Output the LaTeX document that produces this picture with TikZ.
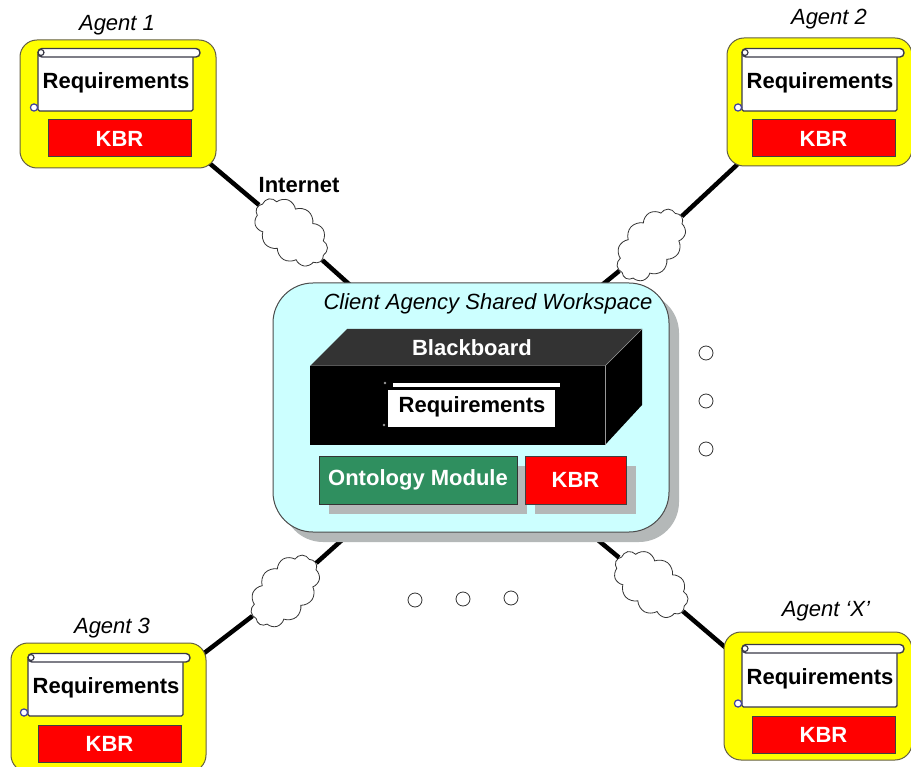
\documentclass[tikz,border=0pt]{standalone}
\usepackage{fontspec}
\setmainfont{Liberation Sans}
\usetikzlibrary{shapes.symbols}
\definecolor{agentyellow}{HTML}{FFFF00}
\definecolor{kbrred}{HTML}{FF0000}
\definecolor{wscyan}{HTML}{CCFFFF}
\definecolor{ontgreen}{HTML}{2F8F5F}
\definecolor{shadowgray}{HTML}{B4B8B8}
\definecolor{scrollline}{HTML}{3A3A48}
\definecolor{curlblue}{HTML}{4040A0}
\newcommand{\fsz}{\fontsize{22}{24}\selectfont}
\tikzset{
  agentbox/.style={draw=black!70!yellow,line width=1pt,fill=agentyellow,rounded corners=17pt,inner sep=0pt},
  kbrbox/.style={draw=black!75,line width=1pt,fill=kbrred,text=white,font=\fsz\bfseries,inner sep=0pt},
  reqtext/.style={font=\fsz\bfseries,text=black,inner sep=0pt},
  agentlabel/.style={font=\fsz\itshape,text=black,inner sep=0pt},
  link/.style={line width=4.5pt,black},
  netcloud/.style={cloud,cloud puffs=11,cloud puff arc=120,aspect=1.55,draw=black!80,line width=0.8pt,fill=white,inner sep=0pt,minimum width=84pt,minimum height=54pt},
  dotmark/.style={circle,draw=black!80,line width=0.8pt,fill=white,minimum size=14pt,inner sep=0pt},
  scrollpart/.style={draw=scrollline,line width=1.4pt,fill=white},
}
% scroll with its text and the red KBR box, drawn relative to Agent 1's position
\newcommand{\agentparts}[3]{%
  \begin{scope}[shift={(#2,#3)}]
    \draw[scrollpart,rounded corners=1.5pt] (38,53) -- (38,111) -- (193,111) -- (193,55) -- cycle;
    \draw[scrollpart,rounded corners=4pt] (38,48.5) -- (200,48.5) -- (200,57) -- (38,57) -- cycle;
    \draw[draw=scrollline,line width=1.2pt,fill=white] (41,52.5) circle (3pt);
    \draw[draw=curlblue,line width=1.2pt,fill=white] (34,107.5) circle (3.6pt);
    \node[reqtext] (#1req) at (116,83) {Requirements};
    \node[kbrbox,minimum width=143pt,minimum height=37pt] (#1kbr) at (119.5,138.5) {KBR};
  \end{scope}%
}
\begin{document}
\begin{tikzpicture}[x=1pt,y=-1pt]
\useasboundingbox (0,0) rectangle (911,767);
\clip (0,0) rectangle (911,767);
\fill[white] (0,0) rectangle (911,767);

% connector end points on the borders of the boxes
\coordinate (a1end) at (208,162);
\coordinate (a2end) at (740,162);
\coordinate (a3end) at (203,654);
\coordinate (a4end) at (726,648);
\coordinate (w1end) at (350,285);
\coordinate (w2end) at (602,285);
\coordinate (w3end) at (352,531);
\coordinate (w4end) at (587,531);

% clouds
\node[netcloud,rotate=-40] (cloud1) at (291,232) {};
\node[netcloud,rotate=48] (cloud2) at (651,245) {};
\node[netcloud,rotate=48] (cloud3) at (285,591) {};
\node[netcloud,rotate=-38] (cloud4) at (651,584) {};

% connectors
\draw[link] (a1end) -- (cloud1);
\draw[link] (cloud1) -- (w1end);
\draw[link] (a2end) -- (cloud2);
\draw[link] (cloud2) -- (w2end);
\draw[link] (a3end) -- (cloud3);
\draw[link] (cloud3) -- (w3end);
\draw[link] (a4end) -- (cloud4);
\draw[link] (cloud4) -- (w4end);

% workspace
\fill[shadowgray,rounded corners=40pt] (283,293) rectangle (679,542);
\node[draw=black!70,line width=1pt,fill=wscyan,rounded corners=40pt,inner sep=0pt,minimum width=396pt,minimum height=249pt] (workspace) at (471,407.5) {};
\node[agentlabel] (wslabel) at (488,304) {Client Agency Shared Workspace};

% blackboard
\fill[black!80] (310,366) -- (347,329) -- (642,329) -- (605,366) -- cycle;
\fill[black] (605,366) -- (642,329) -- (642,405) -- (605,445) -- cycle;
\draw[white!60!black,line width=0.7pt] (310,366) -- (605,366) -- (642,329);
\draw[white!60!black,line width=0.7pt] (605,366) -- (605,445);
\node[draw=none,fill=black,inner sep=0pt,minimum width=295pt,minimum height=79pt] (bbfront) at (457.5,405.5) {};
\node[font=\fsz\bfseries,text=white,inner sep=0pt] (bblabel) at (472,348) {Blackboard};
\fill[white] (393,383) rectangle (560,387);
\node[fill=white,inner sep=0pt,minimum width=167pt,minimum height=37pt] (bbscroll) at (471.5,408.5) {};
\node[reqtext] (bbreq) at (472,407) {Requirements};
\fill[white!60!black] (385,383) circle (1.3pt) (384,425) circle (1.3pt);

% modules
\fill[shadowgray] (329,466) rectangle (527,514);
\fill[shadowgray] (535,466) rectangle (636,514);
\node[draw=black!80,line width=1pt,fill=ontgreen,text=white,font=\fsz\bfseries,inner sep=0pt,minimum width=198pt,minimum height=48pt] (ontology) at (418,480) {Ontology Module};
\node[kbrbox,minimum width=101pt,minimum height=48pt] (wskbr) at (575.5,480) {KBR};

% agents
\node[agentbox,minimum width=196pt,minimum height=128pt] (agent1) at (118,104) {};
\agentparts{aone}{0}{0}
\node[agentlabel] (agent1label) at (117,25) {Agent 1};
\node[agentbox,minimum width=185pt,minimum height=128pt] (agent2) at (819.5,102) {};
\agentparts{atwo}{704}{0}
\node[agentlabel] (agent2label) at (829,19) {Agent 2};
\node[agentbox,minimum width=195pt,minimum height=129pt] (agent3) at (108.5,707.5) {};
\agentparts{athree}{-10}{605}
\node[agentlabel] (agent3label) at (112,628) {Agent 3};
\node[agentbox,minimum width=188pt,minimum height=128pt] (agent4) at (818,696) {};
\agentparts{afour}{704}{596}
\node[agentlabel] (agent4label) at (826,611) {Agent ‘X’};

% internet label
\node[font=\fsz\bfseries,text=black,inner sep=0pt] (internet) at (299,185) {Internet};

% continuation dots
\node[dotmark] (d1) at (706,353) {};
\node[dotmark] (d2) at (706,401) {};
\node[dotmark] (d3) at (706,449) {};
\node[dotmark] (d4) at (415,600) {};
\node[dotmark] (d5) at (463,599) {};
\node[dotmark] (d6) at (511,598) {};
\end{tikzpicture}
\end{document}
